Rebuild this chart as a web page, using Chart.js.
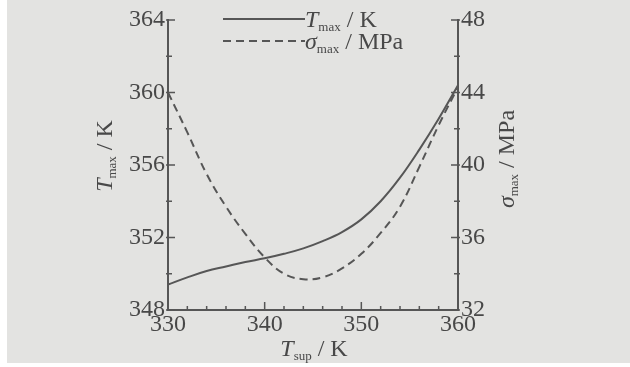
<!DOCTYPE html>
<html>
<head>
<meta charset="utf-8">
<script src="https://cdn.jsdelivr.net/npm/chart.js@4/dist/chart.umd.min.js"></script>
<style>
html,body{margin:0;padding:0;background:#fff;}
#wrap{width:630px;height:367px;}
</style>
</head>
<body>
<div id="wrap"><canvas id="c" width="630" height="367"></canvas></div>
<script>
// ---- data ----
const tSup = [330, 332, 334, 336, 338, 340, 342, 344, 346, 348, 350, 352, 354, 356, 358, 360];
const tMax = [349.4, 349.8, 350.15, 350.4, 350.65, 350.85, 351.1, 351.4, 351.8, 352.3, 353.0, 354.0, 355.3, 356.85, 358.55, 360.4];
const sigmaMax = [44.0, 41.8, 39.5, 37.7, 36.2, 34.9, 34.0, 33.7, 33.8, 34.3, 35.1, 36.25, 37.7, 39.9, 42.2, 44.3];
const xTicks = [330, 340, 350, 360];
const leftTicks = [348, 352, 356, 360, 364];
const rightTicks = [32, 36, 40, 44, 48];

const INK = '#484848';
const LINE = '#565656';
const SERIF = '"Liberation Serif", "DejaVu Serif", serif';
const MAIN = 24, SUB = 13;

function setFont(ctx, p) {
  ctx.font = (p.italic ? 'italic ' : '') + (p.sub ? SUB : MAIN) + 'px ' + SERIF;
}
function richWidth(ctx, parts) {
  let w = 0;
  for (const p of parts) { setFont(ctx, p); w += ctx.measureText(p.t).width; }
  return w;
}
function drawRich(ctx, parts, x, y, align) {
  const w = richWidth(ctx, parts);
  let cx = align === 'center' ? x - w / 2 : x;
  ctx.textBaseline = 'alphabetic';
  ctx.textAlign = 'left';
  ctx.fillStyle = INK;
  for (const p of parts) {
    setFont(ctx, p);
    ctx.fillText(p.t, cx, y + (p.sub ? 4 : 0));
    cx += ctx.measureText(p.t).width;
  }
}

const decor = {
  id: 'decor',
  beforeDraw(chart) {
    const ctx = chart.ctx;
    ctx.save();
    ctx.fillStyle = '#ffffff';
    ctx.fillRect(0, 0, chart.width, chart.height);
    ctx.fillStyle = '#e3e3e1';
    ctx.fillRect(7, 0, chart.width - 7, chart.height - 4);
    ctx.restore();
  },
  afterDraw(chart) {
    const ctx = chart.ctx;
    const x = chart.scales.x, yl = chart.scales.yL, yr = chart.scales.yR;
    const a = chart.chartArea;
    ctx.save();
    ctx.strokeStyle = LINE;
    ctx.lineWidth = 1.5;
    ctx.beginPath();
    for (let v = 330; v <= 360; v += 2) {
      const px = x.getPixelForValue(v);
      const len = (v % 10 === 0) ? 8 : 4;
      ctx.moveTo(px, a.bottom); ctx.lineTo(px, a.bottom - len);
    }
    for (let v = 348; v <= 364; v += 2) {
      const py = yl.getPixelForValue(v);
      const len = (v % 4 === 0) ? 7 : 4;
      ctx.moveTo(a.left - 2, py); ctx.lineTo(a.left + len, py);
    }
    for (let v = 32; v <= 48; v += 2) {
      const py = yr.getPixelForValue(v);
      const len = (v % 4 === 0) ? 7 : 4;
      ctx.moveTo(a.right + 2, py); ctx.lineTo(a.right - len, py);
    }
    ctx.stroke();

    // legend
    ctx.lineWidth = 2;
    ctx.beginPath();
    ctx.moveTo(223, 19); ctx.lineTo(305, 19);
    ctx.stroke();
    ctx.setLineDash([8, 5]);
    ctx.beginPath();
    ctx.moveTo(223, 41); ctx.lineTo(305, 41);
    ctx.stroke();
    ctx.setLineDash([]);
    drawRich(ctx, [{t: 'T', italic: true}, {t: 'max', sub: true}, {t: ' / K'}], 305, 27, 'left');
    drawRich(ctx, [{t: 'σ', italic: true}, {t: 'max', sub: true}, {t: ' / MPa'}], 305, 49, 'left');

    // axis titles
    drawRich(ctx, [{t: 'T', italic: true}, {t: 'sup', sub: true}, {t: ' / K'}], 314, 356, 'center');
    ctx.save();
    ctx.translate(112, 156);
    ctx.rotate(-Math.PI / 2);
    drawRich(ctx, [{t: 'T', italic: true}, {t: 'max', sub: true}, {t: ' / K'}], 0, 0, 'center');
    ctx.restore();
    ctx.save();
    ctx.translate(514, 159);
    ctx.rotate(-Math.PI / 2);
    drawRich(ctx, [{t: 'σ', italic: true}, {t: 'max', sub: true}, {t: ' / MPa'}], 0, 0, 'center');
    ctx.restore();
    ctx.restore();
  }
};

new Chart(document.getElementById('c'), {
  type: 'line',
  data: {
    datasets: [
      {
        label: 'Tmax / K',
        data: tSup.map((v, i) => ({x: v, y: tMax[i]})),
        yAxisID: 'yL',
        borderColor: LINE,
        borderWidth: 2,
        pointRadius: 0,
        tension: 0.4,
        fill: false
      },
      {
        label: 'σmax / MPa',
        data: tSup.map((v, i) => ({x: v, y: sigmaMax[i]})),
        yAxisID: 'yR',
        borderColor: LINE,
        borderWidth: 2,
        borderDash: [8, 5],
        pointRadius: 0,
        tension: 0.4,
        fill: false
      }
    ]
  },
  options: {
    responsive: false,
    animation: false,
    devicePixelRatio: 1,
    layout: {padding: {top: 20, left: 0, right: 0, bottom: 0}},
    plugins: {legend: {display: false}, tooltip: {enabled: false}},
    scales: {
      x: {
        type: 'linear', min: 330, max: 360,
        afterBuildTicks: s => { s.ticks = xTicks.map(v => ({value: v})); },
        afterFit: s => { s.height = 57; },
        grid: {display: false, drawTicks: false},
        border: {display: true, color: LINE, width: 2},
        ticks: {color: INK, padding: 0, font: {family: SERIF, size: 24}, maxRotation: 0}
      },
      yL: {
        type: 'linear', position: 'left', min: 348, max: 364,
        afterBuildTicks: s => { s.ticks = leftTicks.map(v => ({value: v})); },
        afterFit: s => { s.width = 168; },
        grid: {display: false, drawTicks: false},
        border: {display: true, color: LINE, width: 2},
        ticks: {color: INK, padding: 3, font: {family: SERIF, size: 24}}
      },
      yR: {
        type: 'linear', position: 'right', min: 32, max: 48,
        afterBuildTicks: s => { s.ticks = rightTicks.map(v => ({value: v})); },
        afterFit: s => { s.width = 172; },
        grid: {display: false, drawTicks: false},
        border: {display: true, color: LINE, width: 2},
        ticks: {color: INK, padding: 3, font: {family: SERIF, size: 24}}
      }
    }
  },
  plugins: [decor]
});
</script>
</body>
</html>
